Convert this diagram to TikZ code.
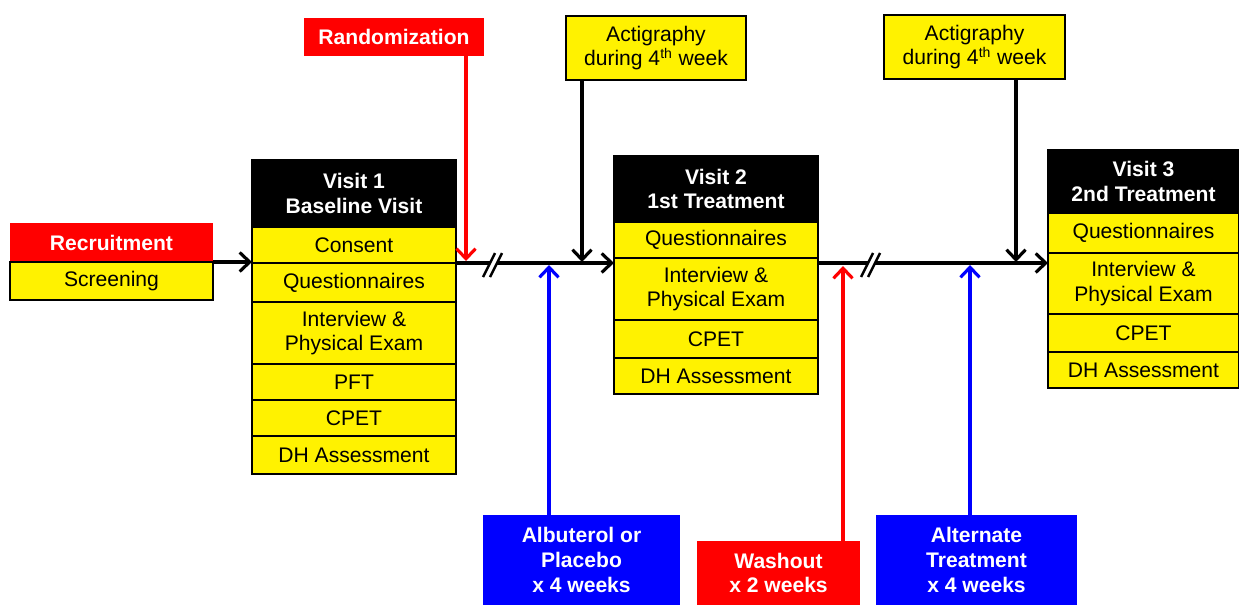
\documentclass[tikz,border=0pt]{standalone}
\usepackage{fontspec}
\setmainfont{Liberation Sans}
\usetikzlibrary{positioning,arrows.meta}
\tikzset{
	cell/.style     = {shape=rectangle, draw, line width=1.1pt, fill=yellow,
		align=center, inner sep=0pt, outer sep=0pt, font=\fontsize{12}{14}\selectfont},
	head/.style     = {cell, fill=black, text=white, font=\fontsize{12}{14}\selectfont\bfseries},
	redbox/.style   = {head, draw=none, fill=red},
	bluebox/.style  = {head, draw=none, fill=blue},
	colA/.style     = {minimum width=4.08cm},
	colB/.style     = {minimum width=3.82cm},
	flow/.style     = {draw, line width=1.8pt, -{Straight Barb[length=2mm,width=3.8mm]}},
	redflow/.style  = {flow, draw=red},
	blueflow/.style = {flow, draw=blue}
}

\begin{document}
\begin{tikzpicture}[x=0.02cm, y=-0.02cm]
	\useasboundingbox (0,0) rectangle (1239,605);

	% recruitment
	\node [redbox, minimum width=4.06cm, minimum height=.78cm, anchor=north west] (rec) at (10,223) {Recruitment};
	\node [cell, minimum width=4.06cm, minimum height=.76cm, below=0pt of rec] (scr) {Screening};

	% visit 1
	\node [head, colA, minimum height=1.34cm, anchor=north west] (v1h) at (252,160) {Visit 1\\Baseline Visit};
	\node [cell, colA, minimum height=.72cm, below=0pt of v1h] (v1c) {Consent};
	\node [cell, colA, minimum height=.78cm, below=0pt of v1c] (v1q) {Questionnaires};
	\node [cell, colA, minimum height=1.24cm, below=0pt of v1q] (v1i) {Interview \&\\Physical Exam};
	\node [cell, colA, minimum height=.72cm, below=0pt of v1i] (v1p) {PFT};
	\node [cell, colA, minimum height=.72cm, below=0pt of v1p] (v1e) {CPET};
	\node [cell, colA, minimum height=.76cm, below=0pt of v1e] (v1d) {DH Assessment};

	% visit 2
	\node [head, colA, minimum height=1.32cm, anchor=north west] (v2h) at (614,156) {Visit 2\\1st Treatment};
	\node [cell, colA, minimum height=.72cm, below=0pt of v2h] (v2q) {Questionnaires};
	\node [cell, colA, minimum height=1.24cm, below=0pt of v2q] (v2i) {Interview \&\\Physical Exam};
	\node [cell, colA, minimum height=.76cm, below=0pt of v2i] (v2e) {CPET};
	\node [cell, colA, minimum height=.72cm, below=0pt of v2e] (v2d) {DH Assessment};

	% visit 3
	\node [head, colB, minimum height=1.26cm, anchor=north west] (v3h) at (1048,150) {Visit 3\\2nd Treatment};
	\node [cell, colB, minimum height=.80cm, below=0pt of v3h] (v3q) {Questionnaires};
	\node [cell, colB, minimum height=1.22cm, below=0pt of v3q] (v3i) {Interview \&\\Physical Exam};
	\node [cell, colB, minimum height=.76cm, below=0pt of v3i] (v3e) {CPET};
	\node [cell, colB, minimum height=.72cm, below=0pt of v3e] (v3d) {DH Assessment};

	% events above and below the time line
	\node [redbox, minimum width=3.6cm, minimum height=.76cm, anchor=north west] (rand) at (304,18) {Randomization};
	\node [cell, minimum width=3.6cm, minimum height=1.28cm, anchor=north west] (act1) at (566,16) {Actigraphy\\during 4\textsuperscript{th} week};
	\node [cell, minimum width=3.62cm, minimum height=1.28cm, anchor=north west] (act2) at (884,15) {Actigraphy\\during 4\textsuperscript{th} week};
	\node [bluebox, minimum width=3.94cm, minimum height=1.8cm, anchor=north west] (alb) at (483,515) {Albuterol or\\Placebo\\x 4 weeks};
	\node [redbox, minimum width=3.26cm, minimum height=1.28cm, anchor=north west] (wash) at (697,541) {Washout\\x 2 weeks};
	\node [bluebox, minimum width=4.02cm, minimum height=1.8cm, anchor=north west] (alt) at (876,515) {Alternate\\Treatment\\x 4 weeks};

	% points on the time line
	\coordinate (r1) at (466,261);
	\coordinate (a1) at (582,262);
	\coordinate (b1) at (549,265);
	\coordinate (w1) at (843,266);
	\coordinate (b2) at (970,265);
	\coordinate (a2) at (1016,262);

	% draw the time line
	\draw [flow] (scr.north east) -- (scr.north east -| v1q.west);
	\draw [flow] (v1c.south east) -- (v1c.south -| v2i.west);
	\draw [flow] (v1c.south -| v2i.east) -- (v1c.south -| v3h.west);

	% breaks
	\foreach \bx in {489,867} {
		\fill [white] (\bx-6,277) -- (\bx+6,253) -- (\bx+13,253) -- (\bx+1,277) -- cycle;
		\draw [line width=1.4pt] (\bx-6,277) -- (\bx+6,253);
		\draw [line width=1.4pt] (\bx+1,277) -- (\bx+13,253);
	}

	\draw [redflow] (rand.south -| r1) -- (r1);
	\draw [flow] (act1.south -| a1) -- (a1);
	\draw [flow] (act2.south -| a2) -- (a2);
	\draw [blueflow] (alb.north -| b1) -- (b1);
	\draw [redflow] (wash.north -| w1) -- (w1);
	\draw [blueflow] (alt.north -| b2) -- (b2);
\end{tikzpicture}
\end{document}
